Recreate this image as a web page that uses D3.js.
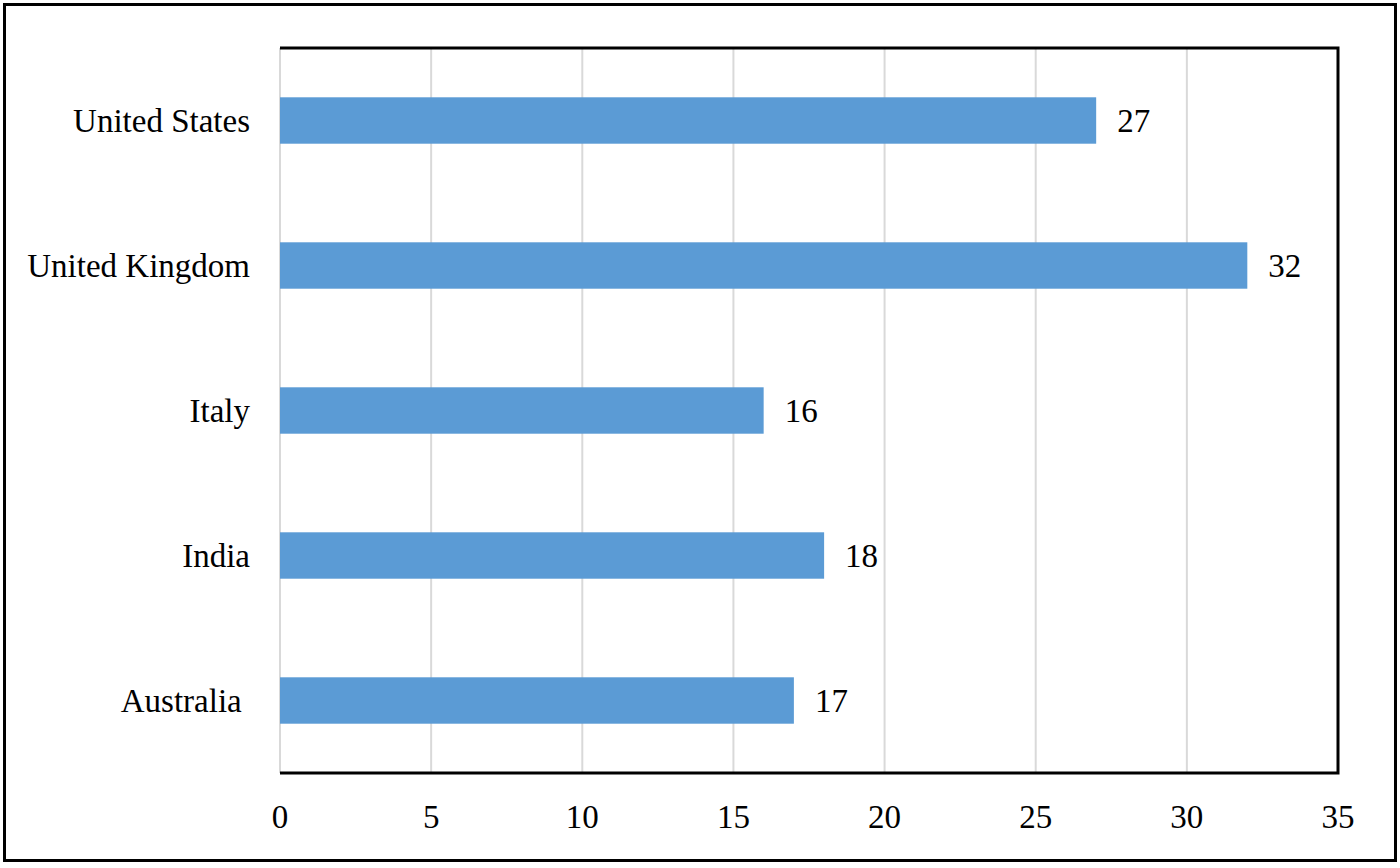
<!DOCTYPE html>
<html>
<head>
<meta charset="utf-8">
<script src="https://cdn.jsdelivr.net/npm/d3@7"></script>
<style>
  body { margin: 0; background: #fff; }
  text { font-family: "Liberation Serif", "Times New Roman", serif; fill: #000; }
</style>
</head>
<body>
<div id="container"></div>
<script>
let countries = ["United States", "United Kingdom", "Italy", "India", "Australia\u00a0"];
let values = [27, 32, 16, 18, 17];
let xTicks = [0, 5, 10, 15, 20, 25, 30, 35];

let w = 1400;
let h = 868;
let plotLeft = 280;
let plotRight = 1338;
let plotTop = 48;
let plotBottom = 773;

let viz = d3.select("#container")
  .append("svg")
  .attr("width", w)
  .attr("height", h);

// outer frame
viz.append("rect")
  .attr("x", 4.5).attr("y", 4.5)
  .attr("width", 1391).attr("height", 856)
  .attr("fill", "none")
  .attr("stroke", "#000")
  .attr("stroke-width", 3);

let xScale = d3.scaleLinear().domain([0, 35]).range([plotLeft, plotRight]);
let yScale = d3.scaleBand().domain(countries).range([plotTop, plotBottom])
  .paddingInner(0.68).paddingOuter(0.34);

// gridlines
viz.append("g").selectAll("line").data(xTicks).enter()
  .append("line")
  .attr("x1", d => xScale(d)).attr("x2", d => xScale(d))
  .attr("y1", plotTop).attr("y2", plotBottom)
  .attr("stroke", "#d9d9d9")
  .attr("stroke-width", 2);

// plot border: top, right, bottom in black
viz.append("path")
  .attr("d", "M" + plotLeft + "," + plotTop + "H" + plotRight + "V" + plotBottom + "H" + plotLeft)
  .attr("fill", "none")
  .attr("stroke", "#000")
  .attr("stroke-width", 3);

// bars
viz.append("g").selectAll("rect").data(values).enter()
  .append("rect")
  .attr("x", xScale(0))
  .attr("y", (d, i) => yScale(countries[i]))
  .attr("width", d => xScale(d) - xScale(0))
  .attr("height", yScale.bandwidth())
  .attr("fill", "#5b9bd5");

// value labels
viz.append("g").selectAll("text").data(values).enter()
  .append("text")
  .attr("x", d => xScale(d) + 21)
  .attr("y", (d, i) => yScale(countries[i]) + yScale.bandwidth() / 2)
  .attr("dominant-baseline", "central")
  .style("font-size", "33px")
  .text(d => d);

// category labels
viz.append("g").selectAll("text").data(countries).enter()
  .append("text")
  .attr("x", plotLeft - 30)
  .attr("y", d => yScale(d) + yScale.bandwidth() / 2)
  .attr("text-anchor", "end")
  .attr("dominant-baseline", "central")
  .style("font-size", "33px")
  .text(d => d);

// x tick labels
viz.append("g").selectAll("text").data(xTicks).enter()
  .append("text")
  .attr("x", d => xScale(d))
  .attr("y", 817)
  .attr("text-anchor", "middle")
  .attr("dominant-baseline", "central")
  .style("font-size", "33px")
  .text(d => d);
</script>
</body>
</html>
